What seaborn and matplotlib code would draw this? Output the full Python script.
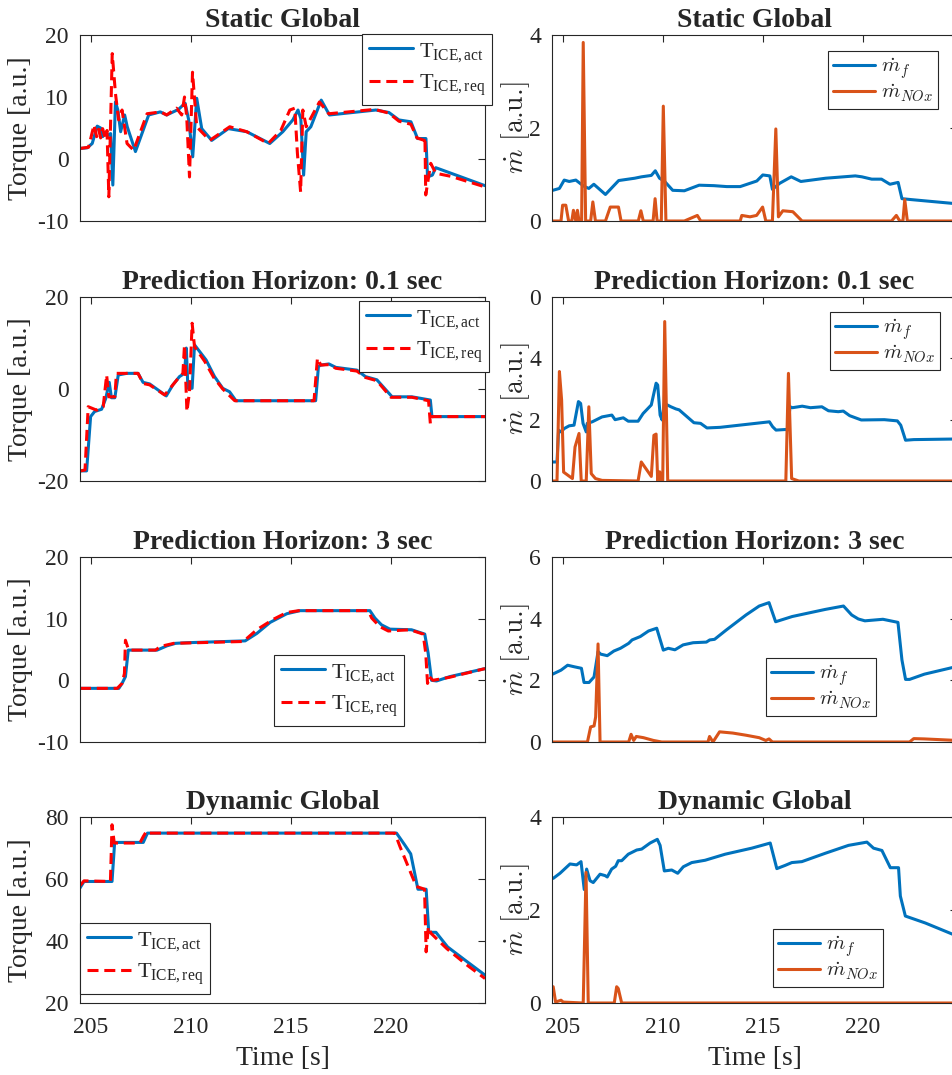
import numpy as np
import matplotlib
matplotlib.use("Agg")
import matplotlib.pyplot as plt
import seaborn as sns
from matplotlib.font_manager import FontProperties

# ---------------- data (time [s], value) ----------------
sg_act = [(204.47,1.7),(204.83,1.8),(205.08,2.5),(205.33,5.3),(205.5,5.0),(205.6,3.6),(205.75,4.2),(205.85,3.8),(206.0,4.1),
          (206.11,-4.2),(206.24,9.2),(206.36,7.9),(206.5,4.4),(206.7,7.1),(206.83,5.2),(207.24,1.2),(207.9,7.1),(208.48,7.6),
          (208.8,7.1),(209.39,8.0),(209.72,9.0),(209.9,6.3),(210.1,0.35),(210.3,9.8),(210.55,4.9),(211.05,3.0),(211.88,4.9),
          (212.8,4.4),(213.95,2.5),(214.6,4.4),(215.1,6.3),(215.36,7.9),(215.5,6.5),(215.64,-2.6),(215.77,4.4),(216.0,5.2),
          (216.52,9.5),(216.93,7.1),(219.25,7.9),(219.9,7.5),(220.4,6.3),(221.0,6.0),(221.33,3.3),(221.75,3.3),(221.83,-2.9),
          (222.07,-2.6),(222.24,-1.4),(224.7,-4.3)]
sg_req = [(204.47,1.7),(204.9,1.9),(205.17,5.5),(205.3,3.6),(205.4,4.8),(205.5,3.4),(205.6,4.9),(205.72,3.5),(205.82,4.6),
          (205.91,-6.1),(206.08,17.0),(206.24,10.6),(206.4,6.3),(206.57,7.9),(206.82,2.5),(207.15,1.4),(207.82,7.3),(208.5,7.6),
          (208.8,7.1),(209.29,8.2),(209.55,7.1),(209.69,10.0),(209.8,6.8),(209.94,-2.9),(210.09,14.0),(210.3,5.2),(210.95,3.0),
          (211.95,5.2),(212.8,4.4),(213.87,2.5),(214.5,4.6),(214.95,7.9),(215.2,8.2),(215.33,0.9),(215.49,-5.3),(215.6,7.9),
          (215.77,5.2),(216.43,9.2),(216.9,7.3),(219.2,8.0),(219.9,7.4),(220.4,6.1),(221.0,5.6),(221.3,3.4),(221.67,3.0),
          (221.7,3.5),(221.74,-5.8),(221.99,-0.7),(222.24,-2.3),(223.0,-2.8),(224.7,-4.5)]
sg_mf = [(204.51,0.66),(204.84,0.7),(205.08,0.88),(205.33,0.85),(205.66,0.88),(205.9,0.8),(206.1,0.74),(206.31,0.7),(206.56,0.79),
         (207.14,0.57),(207.8,0.87),(208.6,0.92),(208.94,0.95),(209.43,0.98),(209.63,1.08),(209.84,0.92),(210.1,0.85),(210.5,0.66),
         (211.08,0.65),(211.82,0.77),(212.56,0.76),(213.2,0.74),(213.87,0.74),(214.7,0.86),(215.0,0.99),(215.35,0.97),(215.48,0.68),
         (215.84,0.81),(216.42,0.95),(216.9,0.85),(218.14,0.92),(219.62,0.97),(219.95,0.95),(220.44,0.9),(220.93,0.9),(221.35,0.79),
         (221.76,0.83),(221.95,0.48),(222.42,0.46),(224.7,0.37)]
sg_nox = [(204.51,0),(204.92,0),(205.0,0.34),(205.16,0.34),(205.3,0),(205.46,0),(205.54,0.23),(205.66,0),(205.74,0.23),(205.82,0),
          (205.95,0),(206.03,3.84),(206.15,0),(206.4,0),(206.51,0.41),(206.64,0),(207.14,0),(207.38,0.3),(207.79,0.3),(207.92,0),
          (208.78,0),(208.91,0.22),(209.03,0),(209.52,0),(209.62,0.48),(209.72,0),(209.93,0),(210.03,2.47),(210.16,0),(211.08,0),
          (211.73,0.12),(211.9,0),(213.87,0),(213.95,0.12),(214.36,0.09),(214.69,0.12),(214.99,0.3),(215.15,0),(215.48,0),
          (215.65,1.98),(215.78,0.09),(216.0,0.22),(216.5,0.2),(216.96,0),(221.43,0),(221.67,0.12),(221.84,0),(222.0,0),
          (222.09,0.46),(222.22,0),(224.7,0)]

ph01_act = [(204.5,-17.8),(204.8,-17.8),(205.0,-6.0),(205.2,-4.9),(205.55,-4.4),(205.76,-2.0),(205.93,1.45),(206.04,-1.9),
            (206.21,-1.9),(206.38,3.05),(206.8,3.4),(207.37,3.4),(207.62,1.45),(207.95,1.1),(208.78,-1.5),(209.11,0.9),
            (209.44,2.7),(209.69,3.4),(209.78,8.9),(209.86,0.15),(210.07,0.15),(210.19,9.6),(210.77,6.3),(211.19,2.7),
            (211.6,0.15),(211.94,-0.6),(212.26,-2.55),(216.24,-2.55),(216.38,4.9),(216.5,5.2),(216.9,5.45),(217.25,4.7),
            (218.3,4.1),(218.73,2.7),(219.3,2.0),(220.06,-1.7),(221.05,-1.7),(221.97,-2.4),(222.05,-6.0),(224.7,-6.0)]
ph01_req = [(204.5,-17.8),(204.72,-17.6),(204.88,-3.85),(205.3,-4.6),(205.63,-3.85),(205.8,3.05),(205.91,-1.7),(206.21,-1.7),
            (206.29,3.4),(207.37,3.4),(207.62,1.2),(207.95,0.9),(208.7,-1.3),(209.37,2.3),(209.61,3.4),(209.69,9.6),
            (209.81,-4.9),(209.94,-0.6),(210.07,14.3),(210.19,9.2),(210.7,6.0),(211.15,2.5),(211.6,0.0),(212.2,-2.55),
            (216.16,-2.55),(216.33,6.7),(216.5,5.2),(216.9,5.3),(217.25,4.5),(218.3,3.9),(218.73,2.5),(219.3,1.8),
            (220.0,-1.8),(221.05,-1.8),(221.88,-2.55),(221.97,-7.5),(222.05,-6.0),(224.7,-6.0)]
ph01_mf = [(204.53,0.62),(204.72,0.62),(204.8,1.66),(204.92,1.6),(205.08,1.71),(205.33,1.8),(205.57,1.82),(205.79,2.59),
           (205.9,2.53),(206.02,1.88),(206.18,1.6),(206.23,1.88),(206.48,1.93),(206.97,2.09),(207.46,2.15),(207.62,2.0),
           (208.03,2.06),(208.28,1.95),(208.77,1.95),(209.02,2.2),(209.43,2.48),(209.67,3.19),(209.75,3.13),(209.87,2.15),
           (209.97,1.99),(210.08,2.53),(210.41,2.42),(210.66,2.35),(210.82,2.32),(211.56,1.9),(211.89,1.88),(212.21,1.73),
           (212.87,1.75),(215.33,1.93),(215.49,1.77),(215.66,1.66),(216.15,1.68),(216.23,1.66),(216.36,2.42),(216.48,2.39),
           (216.97,2.44),(217.38,2.39),(217.95,2.42),(218.28,2.29),(218.77,2.26),(219.02,2.28),(219.34,2.13),(219.92,1.99),
           (221.07,2.0),(221.72,1.96),(221.89,1.82),(222.13,1.33),(222.54,1.35),(224.7,1.37)]
ph01_nox = [(204.53,0),(204.72,0),(204.84,3.57),(204.95,2.64),(205.05,0.29),(205.49,0.08),(205.62,1.11),(205.82,1.55),
            (205.93,0),(206.18,0),(206.31,2.42),(206.43,0.24),(206.64,0.08),(206.97,0.02),(208.77,0),(208.93,0.62),
            (209.43,0.15),(209.56,1.49),(209.67,1.53),(209.75,0),(209.85,0.3),(209.92,0),(210.0,0),(210.1,5.2),(210.25,0),
            (216.15,0),(216.28,3.51),(216.44,0.08),(216.8,0),(224.7,0)]

ph3_act = [(204.47,-1.3),(206.41,-1.3),(206.57,-0.5),(206.74,0.6),(206.88,4.9),(208.32,4.9),(208.82,5.6),(209.24,6.0),
           (209.82,6.1),(212.72,6.4),(213.3,7.6),(213.97,9.4),(214.8,10.8),(215.46,11.3),(218.95,11.3),(219.2,10.1),
           (219.53,9.0),(219.95,8.3),(221.03,8.2),(221.69,7.5),(221.86,4.4),(222.03,0.0),(222.28,-0.1),(222.94,0.6),(224.7,1.9)]
ph3_req = [(204.47,-1.3),(206.33,-1.3),(206.57,-0.5),(206.69,1.1),(206.74,6.5),(206.9,4.9),(208.24,4.9),(208.49,5.5),
           (209.16,6.0),(212.63,6.3),(213.3,8.2),(214.13,9.9),(214.8,11.0),(215.4,11.3),(218.87,11.3),(219.04,10.1),
           (219.45,8.7),(219.87,8.0),(220.95,8.2),(221.61,7.5),(221.74,4.4),(221.83,-0.5),(221.91,0.6),(222.1,0.0),
           (222.94,0.5),(224.7,1.9)]
ph3_mf = [(204.5,2.2),(204.92,2.33),(205.25,2.49),(205.58,2.44),(205.94,2.39),(206.07,1.93),(206.32,1.93),(206.57,2.11),
          (206.77,2.93),(206.9,2.85),(207.23,2.8),(207.56,2.95),(207.89,3.04),(208.3,3.2),(208.47,3.31),(208.88,3.42),
          (209.29,3.6),(209.7,3.69),(210.03,2.98),(210.28,3.04),(210.61,2.99),(211.02,3.15),(211.52,3.22),(212.18,3.24),
          (212.35,3.31),(212.59,3.33),(213.17,3.63),(214.16,4.12),(214.82,4.41),(215.31,4.52),(215.64,3.9),(216.47,4.07),
          (218.12,4.3),(219.03,4.41),(219.44,4.12),(219.77,3.99),(220.1,3.93),(221.0,3.98),(221.75,3.88),(221.95,2.66),
          (222.13,2.03),(222.33,2.03),(223.07,2.2),(224.7,2.45)]
ph3_nox = [(204.5,0),(206.24,0),(206.4,0.49),(206.57,0.52),(206.65,0.81),(206.77,3.18),(206.87,0),(208.3,0),(208.42,0.25),
           (208.55,0.05),(208.68,0.18),(209.04,0.14),(209.54,0.05),(209.95,0),(212.26,0),(212.34,0.18),(212.51,0),
           (212.84,0.33),(213.5,0.29),(214.16,0.22),(214.82,0.14),(215.15,0.05),(215.31,0.1),(215.48,0),(222.33,0),
           (222.54,0.11),(223.07,0.1),(224.7,0.05)]

dg_act = [(204.46,57.0),(204.67,59.2),(206.07,59.2),(206.2,71.8),(207.63,71.8),(207.84,74.8),(220.28,74.8),(220.69,71.0),
          (220.99,68.1),(221.35,56.7),(221.76,56.7),(221.89,42.8),(222.25,42.8),(222.83,38.1),(223.81,33.3),(224.7,29.0)]
dg_req = [(204.46,57.8),(204.67,59.4),(205.99,59.2),(206.07,77.5),(206.18,71.6),(207.46,71.6),(207.63,73.7),(207.79,75.4),
          (207.96,74.8),(220.2,74.8),(220.45,70.5),(221.27,57.6),(221.68,56.7),(221.76,36.5),(221.87,44.6),(222.0,42.5),
          (222.8,37.5),(223.81,32.2),(224.7,27.9)]
dg_mf = [(204.53,2.68),(204.87,2.79),(205.37,2.99),(205.7,2.97),(205.92,3.04),(206.08,2.44),(206.2,2.88),(206.37,2.63),
         (206.53,2.59),(206.87,2.77),(207.12,2.74),(207.23,2.71),(207.45,2.88),(207.65,2.94),(207.78,3.06),(207.95,3.06),
         (208.28,3.2),(208.7,3.29),(208.95,3.31),(209.37,3.44),(209.73,3.52),(209.87,3.39),(210.08,2.84),(210.45,2.86),
         (210.75,2.79),(211.03,2.93),(211.45,3.02),(212.12,3.07),(213.12,3.2),(214.45,3.33),(215.37,3.44),(215.7,2.89),
         (216.12,2.96),(216.45,3.02),(216.95,3.04),(218.12,3.22),(219.28,3.39),(220.2,3.46),(220.53,3.33),(220.95,3.28),
         (221.37,2.91),(221.78,2.91),(221.87,2.3),(222.12,1.87),(223.12,1.72),(224.7,1.44)]
dg_nox = [(204.53,0.35),(204.65,0.02),(204.78,0.04),(204.92,0.06),(205.03,0.02),(206.03,0),(206.17,2.81),(206.28,0),
          (207.58,0),(207.7,0.35),(207.78,0.31),(207.95,0),(224.7,0)]

titles = ["Static Global", "Prediction Horizon: 0.1 sec", "Prediction Horizon: 3 sec", "Dynamic Global"]
torque_ylims = [(-10, 20), (-20, 20), (-10, 20), (20, 80)]
torque_yticks = [[-10, 0, 10, 20], [-20, 0, 20], [-10, 0, 10, 20], [20, 40, 60, 80]]
mdot_ylims = [(0, 4), (0, 6), (0, 6), (0, 4)]
mdot_yticks = [[0, 2, 4], [0, 2, 4, 6], [0, 2, 4, 6], [0, 2, 4]]
mdot_yticklabels = [["0", "2", "4"], ["0", "2", "4", "0"], ["0", "2", "4", "6"], ["0", "2", "4"]]
xticks = [205, 210, 215, 220]
torque_labels = [r"T$_{\mathrm{ICE,act}}$", r"T$_{\mathrm{ICE,req}}$"]
mdot_labels = [r"$\dot{m}_f$", r"$\dot{m}_{NOx}$"]

torque_sets = [(sg_act, sg_req), (ph01_act, ph01_req), (ph3_act, ph3_req), (dg_act, dg_req)]
mdot_sets = [(sg_mf, sg_nox), (ph01_mf, ph01_nox), (ph3_mf, ph3_nox), (dg_mf, dg_nox)]

# ---------------- style ----------------
sns.set_style("white")
plt.rcParams["font.family"] = ["Liberation Serif", "DejaVu Serif"]
plt.rcParams["mathtext.fontset"] = "custom"
plt.rcParams["mathtext.rm"] = "Liberation Serif"
plt.rcParams["mathtext.it"] = "Liberation Serif:italic"
plt.rcParams["mathtext.bf"] = "Liberation Serif:bold"
plt.rcParams["axes.unicode_minus"] = False

BLUE = "#0072BD"
RED = "#FF0000"
ORANGE = "#D95319"
AXC = "#262626"

W, H = 953, 1075
fig = plt.figure(figsize=(W / 100, H / 100), dpi=100)

rows_px = [(35, 221), (297, 481), (557, 742), (817, 1003)]
left_x = (80, 485)
right_x = (552, 957)
xlim = (204.47, 224.7)

leg_left = [(362, 34), (359, 301), (274, 655), (80, 923)]
leg_right = [(828, 51), (830, 312), (766, 658), (773, 929)]


def make_ax(xpx, ypx):
    return fig.add_axes([xpx[0] / W, 1 - ypx[1] / H, (xpx[1] - xpx[0]) / W, (ypx[1] - ypx[0]) / H])


def style_ax(ax, last):
    ax.set_xlim(*xlim)
    ax.set_xticks(xticks)
    ax.tick_params(direction="in", top=True, right=True, length=5, width=0.8,
                   colors=AXC, labelsize=17)
    ax.tick_params(axis="y", pad=8)
    ax.tick_params(axis="x", pad=10)
    for s in ax.spines.values():
        s.set_color(AXC)
        s.set_linewidth(0.8)
    if last:
        ax.set_xlabel("Time [s]", fontsize=20, color=AXC, labelpad=6)
    else:
        ax.set_xticklabels([])


def draw(ax, series, color, ls):
    arr = np.array(series, dtype=float)
    sns.lineplot(x=arr[:, 0], y=arr[:, 1], ax=ax, color=color, linewidth=2.2,
                 linestyle=ls, estimator=None, sort=False)


for i in range(4):
    last = i == 3
    # torque axes
    ax = make_ax(left_x, rows_px[i])
    act, req = torque_sets[i]
    draw(ax, act, BLUE, "-")
    draw(ax, req, RED, (0, (3.6, 1.9)))
    style_ax(ax, last)
    ax.set_ylim(*torque_ylims[i])
    ax.set_yticks(torque_yticks[i])
    ax.set_ylabel("Torque [a.u.]", fontsize=20, color=AXC)
    ax.yaxis.set_label_coords(-0.116, 0.5)
    ax.set_title(titles[i], fontsize=20, fontweight="bold", pad=6)
    lines = ax.get_lines()[:2]
    lx, ly = leg_left[i]
    leg = ax.legend(lines, torque_labels, loc="upper left",
                    bbox_to_anchor=(lx / W, 1 - ly / H), bbox_transform=fig.transFigure,
                    borderaxespad=0, fancybox=False, framealpha=1, edgecolor=AXC,
                    prop=FontProperties(family="Liberation Serif", size=16),
                    handlelength=2.0, labelspacing=0.4, borderpad=0.3, handletextpad=0.25)
    leg.get_frame().set_linewidth(0.8)

    # mass-flow axes
    ax2 = make_ax(right_x, rows_px[i])
    mf, nox = mdot_sets[i]
    draw(ax2, mf, BLUE, "-")
    draw(ax2, nox, ORANGE, "-")
    style_ax(ax2, last)
    ax2.set_ylim(*mdot_ylims[i])
    ax2.set_yticks(mdot_yticks[i])
    ax2.set_yticklabels(mdot_yticklabels[i])
    ax2.set_ylabel(r"$\dot{m}$ [a.u.]", fontsize=20, color=AXC, family="cmr10", math_fontfamily="cm")
    ax2.yaxis.set_label_coords(-0.05, 0.5)
    ax2.set_title(titles[i], fontsize=20, fontweight="bold", pad=6)
    lines2 = ax2.get_lines()[:2]
    rx, ry = leg_right[i]
    leg2 = ax2.legend(lines2, mdot_labels, loc="upper left",
                      bbox_to_anchor=(rx / W, 1 - ry / H), bbox_transform=fig.transFigure,
                      borderaxespad=0, fancybox=False, framealpha=1, edgecolor=AXC,
                      prop=FontProperties(size=15, math_fontfamily="cm"),
                      handlelength=2.0, labelspacing=0.1, borderpad=0.25, handletextpad=0.3)
    leg2.get_frame().set_linewidth(0.8)

fig.savefig("out.png", dpi=100)
